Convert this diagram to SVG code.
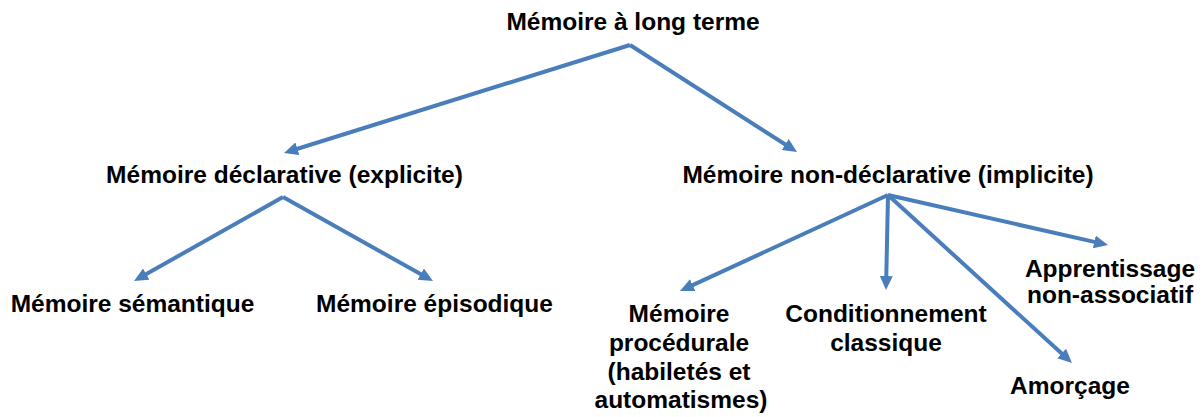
<svg xmlns="http://www.w3.org/2000/svg" width="1203" height="417" viewBox="0 0 1203 417">
<style>
text{font-family:"Liberation Sans",Arial,sans-serif;font-weight:bold;font-size:24.5px;fill:#000;text-anchor:middle}
.c line{stroke:#4A7EBB;stroke-width:4;fill:none;marker-end:url(#ah)}
</style>
<defs>
<marker id="ah" markerUnits="userSpaceOnUse" markerWidth="16" markerHeight="14" refX="9" refY="6.5" orient="auto">
<path d="M0,0 L14,6.5 L0,13 z" fill="#4A7EBB"/>
</marker>
</defs>
<rect width="1203" height="417" fill="#fff"/>
<g class="c" id="connectors">
<line x1="630" y1="45" x2="288.8" y2="151.5"/>
<line x1="630" y1="45" x2="792.8" y2="149.3"/>
<line x1="283" y1="197" x2="138.4" y2="278.5"/>
<line x1="283" y1="197" x2="428.6" y2="278.6"/>
<line x1="888" y1="195" x2="684.5" y2="288.9"/>
<line x1="888" y1="195" x2="886.1" y2="285"/>
<line x1="888" y1="195" x2="1068.3" y2="359.6"/>
<line x1="888" y1="195" x2="1103.1" y2="243.9"/>
</g>
<g id="n-ltm"><text x="633" y="30">Mémoire à long terme</text></g>
<g id="n-decl"><text x="284.5" y="183">Mémoire déclarative (explicite)</text></g>
<g id="n-nondecl"><text x="888" y="183">Mémoire non-déclarative (implicite)</text></g>
<g id="n-sem"><text x="132.5" y="312">Mémoire sémantique</text></g>
<g id="n-epi"><text x="434.5" y="312">Mémoire épisodique</text></g>
<g id="n-proc"><text x="679" y="322">Mémoire</text><text x="679" y="351">procédurale</text><text x="679" y="380">(habiletés et</text><text x="681" y="408">automatismes)</text></g>
<g id="n-cond"><text x="886" y="322">Conditionnement</text><text x="886" y="351">classique</text></g>
<g id="n-app"><text x="1110" y="277">Apprentissage</text><text x="1110" y="303">non-associatif</text></g>
<g id="n-amor"><text x="1070" y="394">Amorçage</text></g>
</svg>
